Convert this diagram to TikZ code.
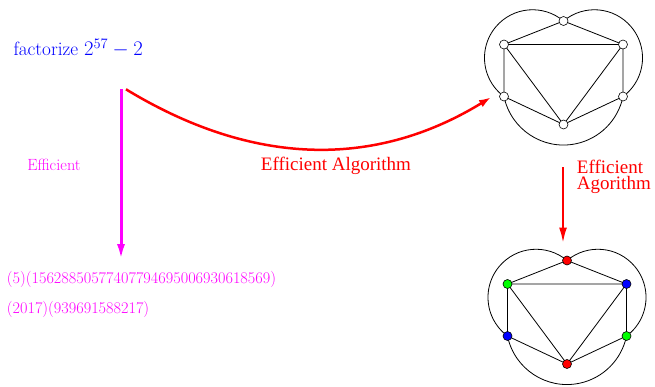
\documentclass[tikz,border=0pt]{standalone}
\usepackage{fontspec}
\newfontfamily\timesf{Liberation Serif}
\usetikzlibrary{arrows.meta}
\definecolor{vred}{rgb}{1,0,0}
\definecolor{vgreen}{rgb}{0,1,0}
\definecolor{vblue}{rgb}{0,0,1}
\definecolor{mag}{rgb}{1,0,1}
\newcommand\mygraph[8]{%
  \begin{scope}[shift={(#2)}]
    \coordinate (#1t) at (0,-50);
    \coordinate (#1ul) at (-59.5,-26.5);
    \coordinate (#1ur) at (59.5,-26.5);
    \coordinate (#1ll) at (-59.5,25.5);
    \coordinate (#1lr) at (59.5,25.5);
    \coordinate (#1b) at (0,53.5);
    \draw[gedge] (#1t) -- (#1ul) -- (#1ur) -- (#1t);
    \draw[gedge] (#1ul) -- (#1ll) -- (#1b) -- (#1lr) -- (#1ur) -- (#1b) -- (#1ul);
    \draw[gedge] (#1t) arc[start angle=-50, end angle=-233.5, radius=48.1];
    \draw[gedge] (#1t) arc[start angle=-130, end angle=53.5, radius=48.1];
    \draw[gedge] (#1ll) arc[start angle=168.4, end angle=11.6, radius=60.75];
    \node[vtx, fill=#3] (#1nt) at (#1t) {};
    \node[vtx, fill=#4] (#1nul) at (#1ul) {};
    \node[vtx, fill=#5] (#1nur) at (#1ur) {};
    \node[vtx, fill=#6] (#1nll) at (#1ll) {};
    \node[vtx, fill=#7] (#1nlr) at (#1lr) {};
    \node[vtx, fill=#8] (#1nb) at (#1b) {};
  \end{scope}}
\begin{document}
\begin{tikzpicture}[x=1pt,y=-1pt,
  gedge/.style={line width=0.8pt, black},
  vtx/.style={circle, draw=black, line width=0.6pt, minimum size=9pt, inner sep=0pt},
  txt/.style={inner sep=0pt, anchor=base west},
  magtxt/.style={text=mag, font=\fontsize{16.25}{19}\selectfont},
  bigred/.style={font=\timesf\fontsize{19}{16}\selectfont, text=vred, inner sep=0pt}]
\useasboundingbox (0,0) rectangle (655,386);

% texts
\node[txt, text=blue, font=\fontsize{19.2}{22}\selectfont] (fac) at (13.3,55.7) {factorize $2^{57}-2$};
\node[inner sep=0pt, anchor=base, magtxt] (eff) at (54,170) {Efficient};
\node[txt, magtxt] (r1) at (6.7,283.3) {(5)(15628850577407794695006930618569)};
\node[txt, magtxt] (r2) at (6.7,313.3) {(2017)(939691588217)};
\node[bigred, anchor=base] (ea) at (336,170) {Efficient Algorithm};
\node[bigred, anchor=base west, align=left] (eb) at (576.7,189) {Efficient\\Agorithm};

% arrows
\coordinate (ms) at (121,89);
\coordinate (me) at (121,260);
\draw[mag, line width=3pt, -{Latex[length=16pt,width=8pt]}] (ms) -- (me);
\coordinate (cs) at (126,89.3);
\coordinate (ce) at (491,97.3);
\draw[vred, line width=2.5pt, -{Latex[length=12pt,width=8pt]}] (cs) .. controls (252,166) and (374,169) .. (ce);
\coordinate (vs) at (563,167);
\coordinate (ve) at (563,243.5);
\draw[vred, line width=2.5pt, -{Latex[length=16pt,width=8pt]}] (vs) -- (ve);

% graphs
\mygraph{a}{563.5,71}{white}{white}{white}{white}{white}{white}
\mygraph{c}{567,310.5}{vred}{vgreen}{vblue}{vblue}{vgreen}{vred}
\end{tikzpicture}
\end{document}
